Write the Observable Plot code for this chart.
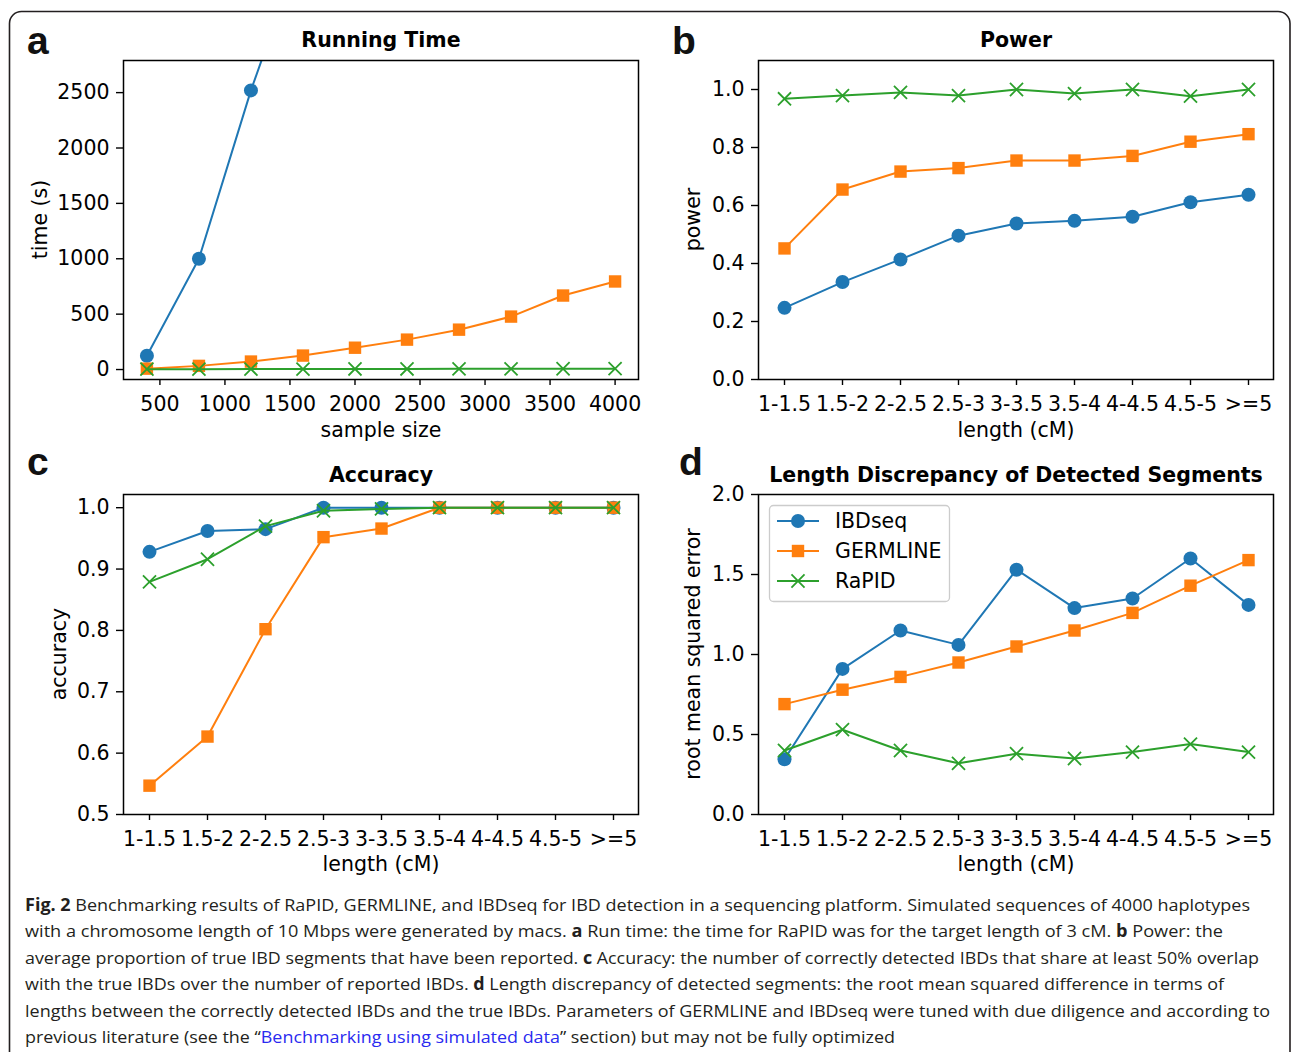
<!DOCTYPE html>
<html><head><meta charset="utf-8">
<script src="https://cdn.jsdelivr.net/npm/d3@7"></script>
<script src="https://cdn.jsdelivr.net/npm/@observablehq/plot@0.6"></script>
<style>
html,body{margin:0;padding:0;background:#fff;}
#fig{position:relative;width:1292px;height:1052px;overflow:hidden;background:#fff;}
#fig svg{position:absolute;left:0;top:0;}
</style></head><body><div id="fig"></div>
<script>
// ---------- data ----------
const methods = ["IBDseq", "GERMLINE", "RaPID"];
const colors = ["#1f77b4", "#ff7f0e", "#2ca02c"];
const symbols = ["circle", "square", "times"];

const sampleSizes = [400, 800, 1200, 1600, 2000, 2400, 2800, 3200, 3600, 4000];
const timeIBDseq = [125, 1000, 2520, 3850];
const timeGERMLINE = [8, 33, 72, 126, 197, 270, 360, 478, 668, 795];
const timeRaPID = [3, 3, 4, 4, 5, 5, 6, 6, 7, 8];
const timeTicksX = [500, 1000, 1500, 2000, 2500, 3000, 3500, 4000];
const timeTicksY = [0, 500, 1000, 1500, 2000, 2500];

const lengthBins = ["1-1.5", "1.5-2", "2-2.5", "2.5-3", "3-3.5", "3.5-4", "4-4.5", "4.5-5", ">=5"];

const powerIBDseq = [0.247, 0.336, 0.414, 0.496, 0.538, 0.547, 0.561, 0.611, 0.637];
const powerGERMLINE = [0.452, 0.655, 0.717, 0.729, 0.755, 0.755, 0.771, 0.820, 0.846];
const powerRaPID = [0.968, 0.979, 0.990, 0.979, 1.0, 0.986, 1.0, 0.977, 1.0];
const powerTicksY = [0, 0.2, 0.4, 0.6, 0.8, 1.0];

const accuracyIBDseq = [0.928, 0.962, 0.965, 1.0, 1.0, 1.0, 1.0, 1.0, 1.0];
const accuracyGERMLINE = [0.547, 0.627, 0.802, 0.952, 0.966, 1.0, 1.0, 1.0, 1.0];
const accuracyRaPID = [0.879, 0.916, 0.970, 0.995, 0.998, 1.0, 1.0, 1.0, 1.0];
const accuracyTicksY = [0.5, 0.6, 0.7, 0.8, 0.9, 1.0];

const rmseIBDseq = [0.345, 0.91, 1.15, 1.06, 1.53, 1.29, 1.35, 1.60, 1.31];
const rmseGERMLINE = [0.69, 0.78, 0.86, 0.95, 1.05, 1.15, 1.26, 1.43, 1.59];
const rmseRaPID = [0.40, 0.53, 0.40, 0.32, 0.38, 0.35, 0.39, 0.44, 0.39];
const rmseTicksY = [0, 0.5, 1.0, 1.5, 2.0];

// ---------- helpers ----------
function tidy(xs, series) {
  const rows = [];
  series.forEach((ys, i) => ys.forEach((y, j) => rows.push({x: xs[j], y, method: methods[i]})));
  return rows;
}
const W = 1292, H = 1052;
const FONT = "DejaVu Sans";
const FS = 20.5;

function panel({frame: [x0, y0, x1, y1], xScale, yScale, data, xTicks, xFormat, yTicks, yFormat}) {
  const marks = [];
  methods.forEach((m, i) => {
    const d = data.filter(r => r.method === m);
    marks.push(Plot.line(d, {x: "x", y: "y", stroke: colors[i], strokeWidth: 2, clip: true}));
    if (i === 2) {
      marks.push(Plot.dot(d, {x: "x", y: "y", symbol: "times", r: 6, stroke: colors[i], strokeWidth: 1.8, fill: "none", clip: true}));
    } else {
      marks.push(Plot.dot(d, {x: "x", y: "y", symbol: symbols[i], r: 7, fill: colors[i], stroke: "none", clip: true}));
    }
  });
  marks.push(Plot.axisX({ticks: xTicks, tickFormat: xFormat, tickSize: 6, tickPadding: 11, fontSize: FS, strokeWidth: 1.4, label: null, stroke: "black", fill: "black"}));
  marks.push(Plot.axisY({ticks: yTicks, tickFormat: yFormat, tickSize: 7, tickPadding: 7, fontSize: FS, strokeWidth: 1.4, label: null, stroke: "black", fill: "black"}));
  marks.push(Plot.frame({stroke: "black", strokeWidth: 1.5}));
  const svg = Plot.plot({
    width: W, height: H,
    marginLeft: x0, marginTop: y0, marginRight: W - x1, marginBottom: H - y1,
    x: {...xScale, label: null},
    y: {...yScale, label: null},
    style: {fontFamily: FONT, fontSize: FS + "px", background: "transparent", overflow: "visible", color: "black"},
    marks
  });
  svg.style.position = "absolute";
  svg.style.left = "0px";
  svg.style.top = "0px";
  document.getElementById("fig").appendChild(svg);
}

const fmt1 = d3.format(".1f");

panel({
  frame: [123, 60, 638, 379],
  xScale: {type: "linear", domain: [220, 4180]},
  yScale: {type: "linear", domain: [-90, 2790]},
  data: tidy(sampleSizes, [timeIBDseq, timeGERMLINE, timeRaPID]),
  xTicks: timeTicksX, xFormat: d3.format("d"),
  yTicks: timeTicksY, yFormat: d3.format("d")
});
panel({
  frame: [758, 60, 1273, 379],
  xScale: {type: "point", domain: lengthBins, padding: 0.4},
  yScale: {type: "linear", domain: [0, 1.1]},
  data: tidy(lengthBins, [powerIBDseq, powerGERMLINE, powerRaPID]),
  yTicks: powerTicksY, yFormat: fmt1
});
panel({
  frame: [123, 494, 638, 814],
  xScale: {type: "point", domain: lengthBins, padding: 0.4},
  yScale: {type: "linear", domain: [0.5, 1.0215]},
  data: tidy(lengthBins, [accuracyIBDseq, accuracyGERMLINE, accuracyRaPID]),
  yTicks: accuracyTicksY, yFormat: fmt1
});
panel({
  frame: [758, 494, 1273, 814],
  xScale: {type: "point", domain: lengthBins, padding: 0.4},
  yScale: {type: "linear", domain: [0, 2.0]},
  data: tidy(lengthBins, [rmseIBDseq, rmseGERMLINE, rmseRaPID]),
  yTicks: rmseTicksY, yFormat: fmt1
});

// ---------- annotations overlay ----------
const ov = d3.select("#fig").append("svg")
  .attr("width", W).attr("height", H)
  .style("position", "absolute").style("left", 0).style("top", 0)
  .style("pointer-events", "none");

ov.append("rect").attr("x", 9.5).attr("y", 11.5).attr("width", 1280.5).attr("height", 1120)
  .attr("rx", 12).attr("fill", "none").attr("stroke", "#231f20").attr("stroke-width", 1.6);

const letters = [["a", 27, 54], ["b", 672, 54], ["c", 27, 475], ["d", 679, 475]];
letters.forEach(([t, x, y]) => ov.append("text").attr("x", x).attr("y", y).text(t)
  .attr("font-family", "Liberation Sans, Arial, sans-serif").attr("font-weight", "bold").attr("font-size", 39).attr("fill", "#111"));

const titles = [["Running Time", 381, 47], ["Power", 1016, 47], ["Accuracy", 381, 482], ["Length Discrepancy of Detected Segments", 1016, 482]];
titles.forEach(([t, x, y]) => ov.append("text").attr("x", x).attr("y", y).text(t).attr("text-anchor", "middle")
  .attr("font-family", FONT).attr("font-weight", "bold").attr("font-size", FS).attr("fill", "black"));

const xLabels = [["sample size", 381, 437], ["length (cM)", 1016, 437], ["length (cM)", 381, 871], ["length (cM)", 1016, 871]];
xLabels.forEach(([t, x, y]) => ov.append("text").attr("x", x).attr("y", y).text(t).attr("text-anchor", "middle")
  .attr("font-family", FONT).attr("font-size", FS).attr("fill", "black"));

const yLabels = [["time (s)", 47, 219.5], ["power", 700, 219.5], ["accuracy", 66, 654], ["root mean squared error", 700, 654]];
yLabels.forEach(([t, x, y]) => ov.append("text").attr("transform", `translate(${x},${y}) rotate(-90)`).text(t)
  .attr("text-anchor", "middle").attr("font-family", FONT).attr("font-size", FS).attr("fill", "black"));

// legend (panel d)
const lg = ov.append("g");
lg.append("rect").attr("x", 769.5).attr("y", 505.5).attr("width", 180).attr("height", 96).attr("rx", 4)
  .attr("fill", "white").attr("fill-opacity", 0.8).attr("stroke", "#cccccc").attr("stroke-width", 1.3);
methods.forEach((m, i) => {
  const cy = 521 + 30 * i;
  lg.append("line").attr("x1", 777).attr("x2", 819).attr("y1", cy).attr("y2", cy).attr("stroke", colors[i]).attr("stroke-width", 2);
  const sym = [d3.symbolCircle, d3.symbolSquare, d3.symbolTimes][i];
  const r = i === 2 ? 6 : 7;
  const p = lg.append("path").attr("transform", `translate(798,${cy})`).attr("d", d3.symbol(sym, Math.PI * r * r)());
  if (i === 2) p.attr("fill", "none").attr("stroke", colors[i]).attr("stroke-width", 1.8);
  else p.attr("fill", colors[i]);
  lg.append("text").attr("x", 835).attr("y", cy).attr("dy", "0.36em").text(m)
    .attr("font-family", FONT).attr("font-size", FS).attr("fill", "black");
});

// caption
const capLines = [
  {end: 1250, parts: [["Fig. 2", "b"], [" Benchmarking results of RaPID, GERMLINE, and IBDseq for IBD detection in a sequencing platform. Simulated sequences of 4000 haplotypes"]]},
  {end: 1223, parts: [["with a chromosome length of 10 Mbps were generated by macs. "], ["a", "b"], [" Run time: the time for RaPID was for the target length of 3 cM. "], ["b", "b"], [" Power: the"]]},
  {end: 1259, parts: [["average proportion of true IBD segments that have been reported. "], ["c", "b"], [" Accuracy: the number of correctly detected IBDs that share at least 50% overlap"]]},
  {end: 1224, parts: [["with the true IBDs over the number of reported IBDs. "], ["d", "b"], [" Length discrepancy of detected segments: the root mean squared difference in terms of"]]},
  {end: 1270, parts: [["lengths between the correctly detected IBDs and the true IBDs. Parameters of GERMLINE and IBDseq were tuned with due diligence and according to"]]},
  {end: 895, parts: [["previous literature (see the \u201C"], ["Benchmarking using simulated data", "l"], ["\u201D section) but may not be fully optimized"]]}
];
capLines.forEach((ln, i) => {
  const t = ov.append("text").attr("x", 25).attr("y", 911 + 26.4 * i)
    .attr("font-family", "Open Sans, sans-serif").attr("font-size", 17).attr("fill", "#231f20")
    .attr("textLength", ln.end - 25).attr("lengthAdjust", "spacingAndGlyphs")
    .attr("xml:space", "preserve").style("white-space", "pre");
  ln.parts.forEach(([s, k]) => {
    const ts = t.append("tspan").text(s);
    if (k === "b") ts.attr("font-weight", "bold");
    if (k === "l") ts.attr("fill", "#2a2af0");
  });
});
</script></body></html>
